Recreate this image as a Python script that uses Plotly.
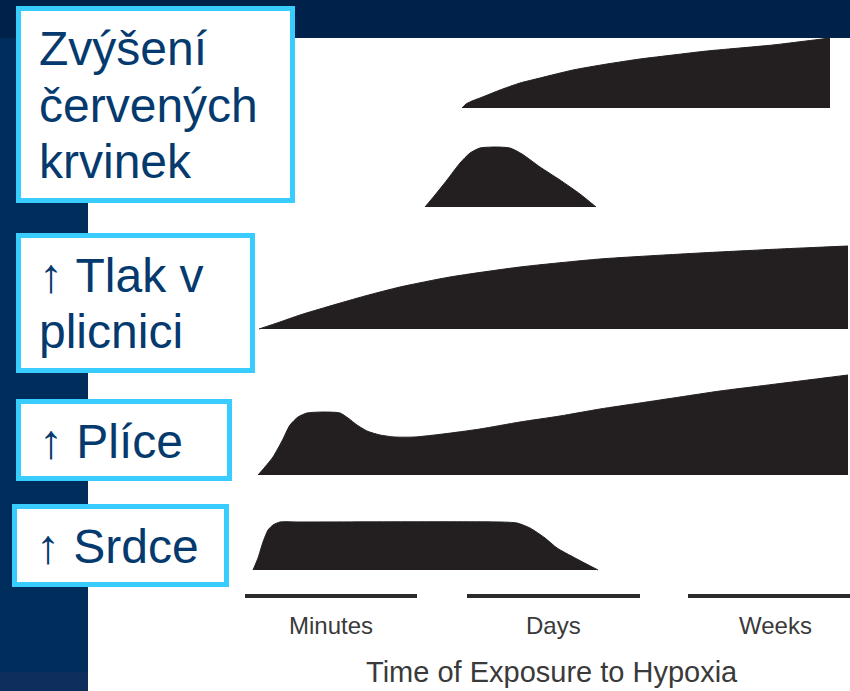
import plotly.graph_objects as go

# ---------------- data ----------------
# Each response row: x positions along the time axis, and filled height above its baseline
rbc_base = 108
rbc_x = [462, 466, 472, 480, 490, 500, 520, 540, 573, 607, 640, 673, 707, 740, 773, 806, 830]
rbc_h = [0, 4, 7, 10, 14, 18, 25, 30, 38, 44, 49, 53, 57, 60, 63, 67, 70]

hump_base = 207
hump_x = [425, 435, 447, 460, 470, 480, 495, 510, 522, 540, 560, 580, 596]
hump_h = [0, 12, 27, 44, 54, 59, 60, 59, 53, 40, 27, 13, 0]

tlak_base = 329
tlak_x = [259, 280, 300, 330, 365, 400, 450, 520, 600, 700, 780, 848]
tlak_h = [0, 7, 14, 23, 33, 42, 52, 62, 70, 76, 80, 83]

plice_base = 475
plice_x = [258, 265, 273, 282, 290, 298, 307, 325, 340, 348, 357, 367, 380, 395, 415,
           443, 480, 520, 560, 600, 640, 680, 720, 760, 800, 848]
plice_h = [0, 8, 18, 34, 50, 58, 62, 63, 62, 57, 50, 44, 40, 38, 38,
           41, 46, 53, 59, 66, 72, 78, 84, 89, 94, 100]

srdce_base = 570
srdce_x = [253, 258, 263, 268, 273, 280, 300, 500, 517, 530, 545, 557, 575, 598]
srdce_h = [0, 12, 28, 40, 45, 48, 48, 48, 47, 42, 32, 22, 12, 0]

# time axis segments and their labels
periods = ["Minutes", "Days", "Weeks"]
seg_start = [245, 467, 688]
seg_end = [417, 640, 862]
axis_title = "Time of Exposure to Hypoxia"

# labels in the cyan boxes
box_lines = [
    ["Zvýšení", "červených", "krvinek"],
    ["↑ Tlak v", "plicnici"],
    ["↑ Plíce"],
    ["↑ Srdce"],
]

# ---------------- styling / layout ----------------
W, H = 850, 691
NAVY_TOP = "#00224a"
NAVY = "#002e5c"
TEXT_NAVY = "#053a6e"
CYAN = "#38ccff"
SHAPE = "#231f20"
FONT = "Liberation Sans, Arial, Helvetica, sans-serif"

fig = go.Figure()

rows = [
    (rbc_base, rbc_x, rbc_h),
    (hump_base, hump_x, hump_h),
    (tlak_base, tlak_x, tlak_h),
    (plice_base, plice_x, plice_h),
    (srdce_base, srdce_x, srdce_h),
]
for base, xs, hs in rows:
    fig.add_trace(go.Scatter(x=[xs[0], xs[-1]], y=[base, base], mode="lines",
                             line=dict(width=0, color=SHAPE), hoverinfo="skip",
                             showlegend=False))
    fig.add_trace(go.Scatter(x=xs, y=[base - h for h in hs], mode="lines",
                             line=dict(width=1, color=SHAPE, shape="spline", smoothing=0.6),
                             fill="tonexty", fillcolor=SHAPE, hoverinfo="skip",
                             showlegend=False))

# time segments
for s, e in zip(seg_start, seg_end):
    fig.add_trace(go.Scatter(x=[s, e], y=[596, 596], mode="lines",
                             line=dict(width=4, color="#2a2a2a"), hoverinfo="skip",
                             showlegend=False))

annotations = []
for name, s, e in zip(periods, seg_start, seg_end):
    annotations.append(dict(x=(s + e) / 2, y=625, text=name, showarrow=False,
                            xanchor="center", yanchor="middle",
                            font=dict(family=FONT, size=24, color="#3a3a3a")))
annotations.append(dict(x=552, y=672, text=axis_title, showarrow=False,
                        xanchor="center", yanchor="middle",
                        font=dict(family=FONT, size=29, color="#3a3a3a")))

# boxes
boxes = [
    (18.5, 292.5, 8.5, 200.5, 37, [48, 105, 161]),
    (18.5, 252.5, 235.5, 370.5, 37, [275, 331]),
    (18.5, 229.5, 401.5, 478.5, 37, [441]),
    (14.5, 226.5, 506.5, 584.5, 34, [546]),
]
shapes = [
    dict(type="rect", xref="x", yref="y", x0=88, x1=W, y0=38, y1=H,
         fillcolor="white", line=dict(width=0), layer="below"),
    dict(type="rect", xref="x", yref="y", x0=0, x1=W, y0=0, y1=38,
         fillcolor=NAVY_TOP, line=dict(width=0), layer="below"),
    dict(type="rect", xref="x", yref="y", x0=0, x1=88, y0=672, y1=H,
         fillcolor="#0e2f5e", line=dict(width=0), layer="below"),
]
for (x0, x1, y0, y1, tx, ys), lines in zip(boxes, box_lines):
    shapes.append(dict(type="rect", xref="x", yref="y", x0=x0, x1=x1, y0=y0, y1=y1,
                       fillcolor="white", line=dict(width=5, color=CYAN), layer="above"))
    for t, yy in zip(lines, ys):
        annotations.append(dict(x=tx, y=yy, text=t, showarrow=False,
                                xanchor="left", yanchor="middle",
                                font=dict(family=FONT, size=48, color=TEXT_NAVY)))

fig.update_layout(
    width=W, height=H, autosize=False,
    margin=dict(l=0, r=0, t=0, b=0),
    paper_bgcolor=NAVY, plot_bgcolor="rgba(0,0,0,0)",
    xaxis=dict(range=[0, W], visible=False, fixedrange=True),
    yaxis=dict(range=[H, 0], visible=False, fixedrange=True),
    shapes=shapes, annotations=annotations, showlegend=False,
)

fig.write_html(
    "out.html",
    config={"displayModeBar": False},
    post_script="document.body.style.margin='0';document.body.style.overflow='hidden';",
)
